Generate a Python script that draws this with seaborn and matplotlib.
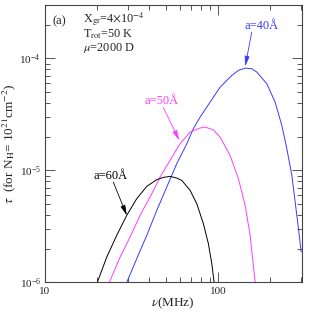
import numpy as np
import pandas as pd
import matplotlib
matplotlib.use("Agg")
import matplotlib.pyplot as plt
import matplotlib.ticker as mticker
import seaborn as sns

# values (nu in MHz, tau for N_H = 1e21 cm^-2)
nu_60 = [20.06, 22.73, 25.97, 29.67, 33.89, 38.72, 44.22, 48.3, 52.79, 57.7, 61.70,
         68.91, 75.33, 82.22, 87.86, 91.96, 94.82]
tau_60 = [1.0e-6, 1.68e-6, 2.63e-6, 3.97e-6, 5.59e-6, 7.20e-6, 8.26e-6, 8.66e-6,
          8.84e-6, 8.54e-6, 8.14e-6, 6.63e-6, 5.04e-6, 3.34e-6, 2.22e-6, 1.47e-6, 1.0e-6]

nu_50 = [23.53, 27.14, 31.00, 35.41, 40.45, 46.20, 52.79, 60.31, 68.91, 78.7, 84.1,
         93.9, 102.7, 117.3, 131.0, 143.3, 153.1, 163.7]
tau_50 = [1.0e-6, 1.68e-6, 2.54e-6, 3.97e-6, 5.78e-6, 8.71e-6, 1.23e-5, 1.73e-5,
          2.20e-5, 2.39e-5, 2.44e-5, 2.30e-5, 1.98e-5, 1.36e-5, 8.43e-6, 4.87e-6,
          2.63e-6, 1.0e-6]

nu_40 = [29.67, 33.89, 38.72, 44.22, 50.52, 57.71, 65.95, 71.97, 78.7, 89.9, 102.7,
         120.0, 131.0, 143.3, 156.6, 167.4, 191.2, 213.5, 233.4, 249.5, 266.7, 278.7,
         291.2, 301.9]
tau_40 = [1.0e-6, 1.63e-6, 2.63e-6, 4.39e-6, 7.10e-6, 1.15e-5, 1.73e-5, 2.36e-5,
          2.99e-5, 4.07e-5, 5.54e-5, 7.05e-5, 7.81e-5, 8.19e-5, 8.09e-5, 7.55e-5,
          5.94e-5, 4.07e-5, 2.52e-5, 1.56e-5, 9.02e-6, 5.21e-6, 3.02e-6, 1.87e-6]

sizes = ["a=40Å", "a=50Å", "a=60Å"]
colors = ["#3a3aff", "#ff3cff", "black"]

sns.set_theme(style="ticks")
plt.rcParams["font.family"] = ["Liberation Serif", "DejaVu Serif"]
plt.rcParams["mathtext.fontset"] = "stix"

fig = plt.figure(figsize=(3.14, 3.12), dpi=100)
ax = fig.add_axes([0.1433, 0.095, 0.8175, 0.889])

curves = [(nu_40, tau_40), (nu_50, tau_50), (nu_60, tau_60)]
for (nu, tau), lab, col in zip(curves, sizes, colors):
    df = pd.DataFrame({"nu": nu, "tau": tau})
    sns.lineplot(data=df, x="nu", y="tau", color=col, lw=0.7, estimator=None,
                 sort=False, ax=ax)

ax.set_xscale("log")
ax.set_yscale("log")
ax.set_xlim(10, 304)
ax.set_ylim(1e-6, 3e-4)

ax.xaxis.set_major_locator(mticker.FixedLocator([10, 100]))
ax.xaxis.set_major_formatter(mticker.FixedFormatter(["10", "100"]))
ax.xaxis.set_minor_locator(mticker.LogLocator(base=10, subs=np.arange(2, 10)))
ax.xaxis.set_minor_formatter(mticker.NullFormatter())
ax.yaxis.set_major_locator(mticker.LogLocator(base=10, numticks=10))
ax.yaxis.set_minor_locator(mticker.LogLocator(base=10, subs=np.arange(2, 10), numticks=10))
ax.yaxis.set_minor_formatter(mticker.NullFormatter())

ax.tick_params(which="both", direction="in", top=True, right=True, color="#555555",
               width=0.7)
ax.tick_params(which="major", length=7, labelsize=8, pad=3)
ax.tick_params(which="minor", length=3.5)
for s in ax.spines.values():
    s.set_linewidth(0.8)
    s.set_color("#444444")

ax.set_xlabel(r"$\nu$(MHz)", fontsize=9.5, labelpad=0)
ax.set_ylabel(r"$\tau$  (for N$_{\rm H}$= 10$^{21}$cm$^{-2}$)", fontsize=9.5, labelpad=1)

# parameter block
ax.text(0.03, 0.94, "(a)", transform=ax.transAxes, fontsize=9, va="center")
ax.text(0.148, 0.948, r"X$_{\rm gr}$=4$\times$10$^{-4}$", transform=ax.transAxes,
        fontsize=8.8, va="center")
ax.text(0.148, 0.895, r"T$_{\rm rot}$=50 K", transform=ax.transAxes, fontsize=8.8,
        va="center")
ax.text(0.148, 0.845, r"$\mu$=2000 D", transform=ax.transAxes, fontsize=8.8,
        va="center")

# curve labels with arrows
labels = [
    (sizes[0], colors[0], (178.4, 1.93e-4), (156.6, 1.72e-4), (143.3, 8.5e-5)),
    (sizes[1], colors[1], (47.4, 4.13e-5), (48.3, 3.63e-5), (59.7, 1.85e-5)),
    (sizes[2], colors[2], (23.8, 8.84e-6), (24.8, 7.86e-6), (29.7, 3.96e-6)),
]
for txt, col, pos, start, tip in labels:
    ax.text(pos[0], pos[1], txt, color=col, fontsize=9, ha="center", va="center")
    ax.annotate("", xy=tip, xytext=start,
                arrowprops=dict(arrowstyle="-|>,head_length=0.5,head_width=0.12",
                                color=col, lw=0.6, shrinkA=0, shrinkB=0))

fig.savefig("out.png", dpi=100)
